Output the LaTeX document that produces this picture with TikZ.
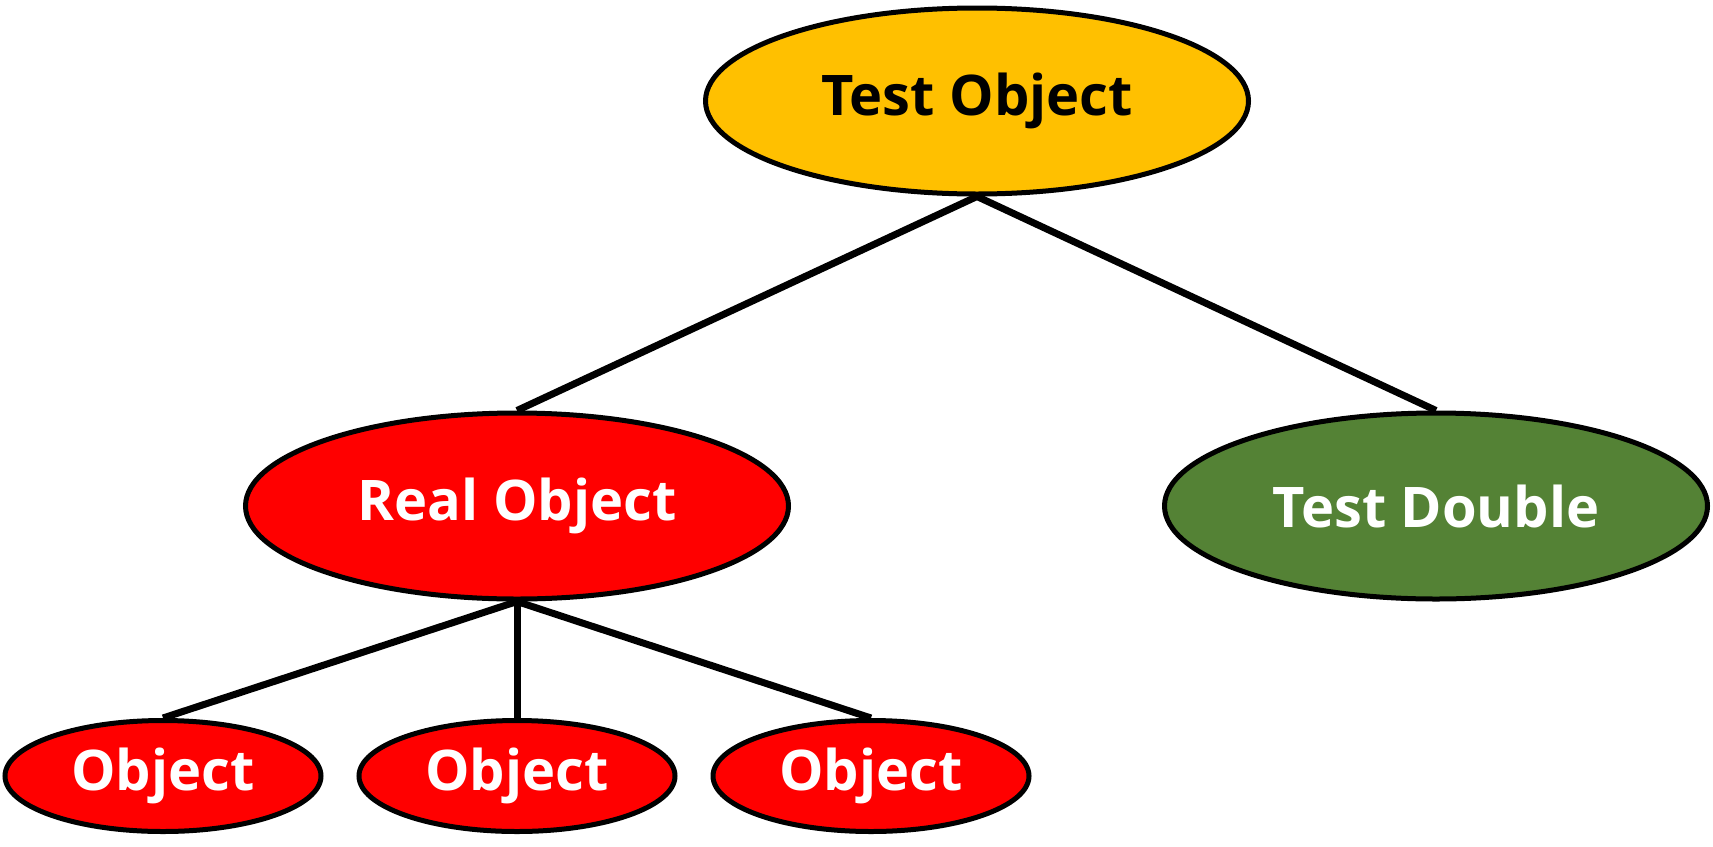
\documentclass[tikz,border=0pt]{standalone}
\usepackage{fontspec}
\setmainfont{Open Sans}
\usepackage{tikz}
\usetikzlibrary{shapes.geometric}
\definecolor{topyellow}{HTML}{FFC000}
\definecolor{realred}{HTML}{FF0000}
\definecolor{doublegreen}{HTML}{548235}
\tikzstyle{topobj} = [ellipse, minimum width=543pt, minimum height=186pt, text centered, draw=black, line width=5pt, fill=topyellow, text=black, font=\bfseries\fontsize{56}{56}\selectfont]
\tikzstyle{midobj} = [topobj, fill=realred, text=white]
\tikzstyle{dblobj} = [topobj, fill=doublegreen, text=white]
\tikzstyle{leafobj} = [ellipse, minimum width=316pt, minimum height=111pt, text centered, draw=black, line width=5pt, fill=realred, text=white, font=\bfseries\fontsize{56}{56}\selectfont]
\tikzstyle{link} = [line width=7pt]

\begin{document}
\begin{tikzpicture}[x=1pt, y=-1pt, node distance=405pt]
\useasboundingbox (0,0) rectangle (1713,846);

\node (testobj) [topobj] at (977,101) {Test Object};
\node (realobj) [midobj, below of=testobj, xshift=-460pt] {Real Object};
\node (testdbl) [dblobj, below of=testobj, xshift=459pt] {Test Double};
\node (leafa) [leafobj, below of=realobj, yshift=135pt, xshift=-354pt] {Object};
\node (leafb) [leafobj, below of=realobj, yshift=135pt] {Object};
\node (leafc) [leafobj, below of=realobj, yshift=135pt, xshift=354pt] {Object};

\draw [link] (testobj.south) -- (realobj.north);
\draw [link] (testobj.south) -- (testdbl.north);
\draw [link] (realobj.south) -- (leafa.north);
\draw [link] (realobj.south) -- (leafb.north);
\draw [link] (realobj.south) -- (leafc.north);
\end{tikzpicture}
\end{document}
